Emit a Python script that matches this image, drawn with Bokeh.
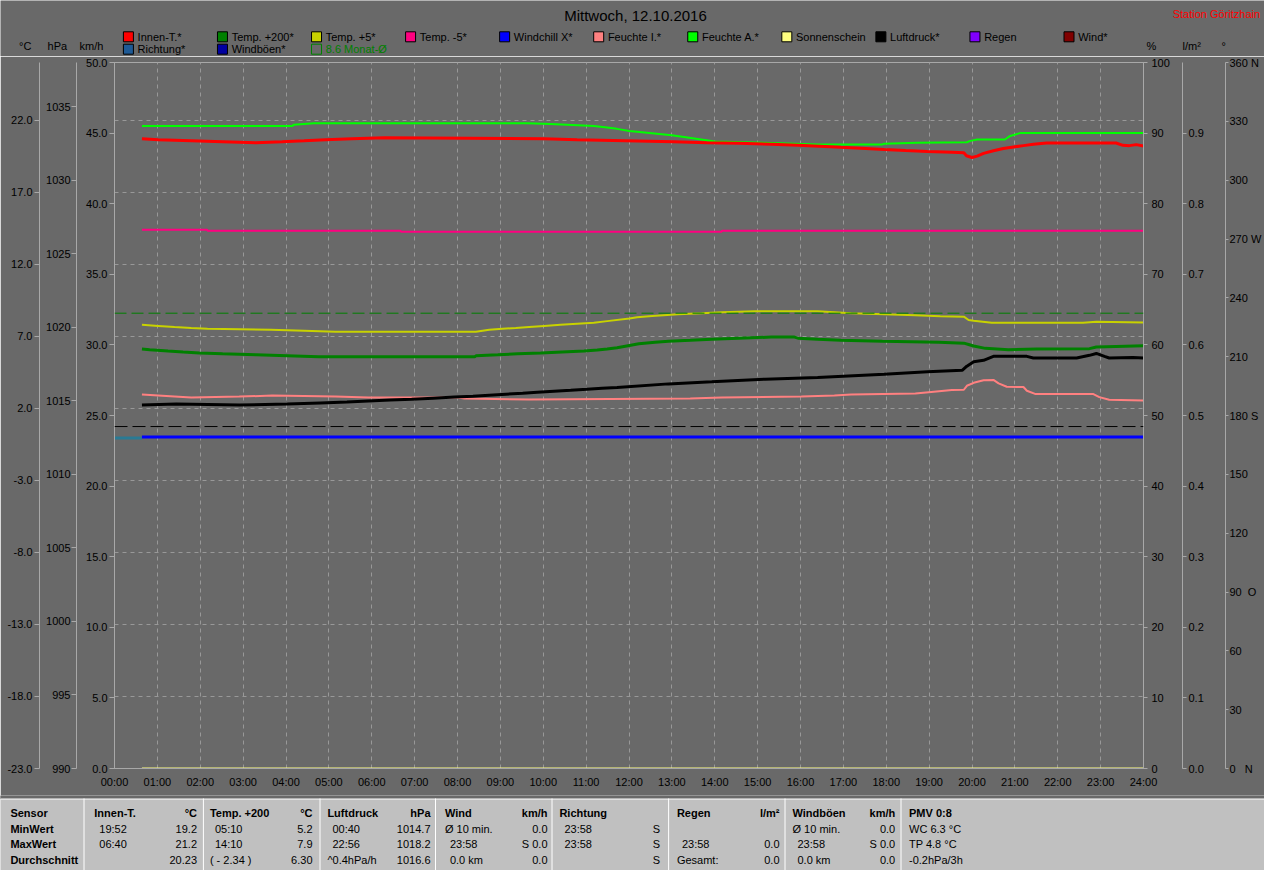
from bokeh.plotting import figure
from bokeh.models import Range1d, LinearAxis, FixedTicker, Grid, Span
from bokeh.layouts import column
from bokeh.core.properties import value
from bokeh.embed import file_html
from bokeh.resources import INLINE

FONT = "Liberation Sans"
BG = "#696969"
AXIS_C = "#A8A8A8"
GRID_C = "#989898"
TABLE_BG = "#C0C0C0"
NB = "\u00a0"

# ---------------- data (hours, value) ----------------
INNEN_T = [0.64, 1.02, 1.79, 2.52, 3.30, 3.91, 4.42, 4.92, 5.54, 6.29, 10.02, 10.79, 11.91,
           13.04, 13.81, 14.55, 15.32, 15.94, 16.44, 16.94, 17.41, 17.95, 18.45,
           18.96, 19.54, 19.81, 19.87, 20.00, 20.12, 20.27, 20.50, 20.73, 20.97,
           21.20, 21.43, 21.74, 23.36, 23.52, 23.67, 23.83, 24.0]
INNEN_V = [20.71, 20.64, 20.57, 20.50, 20.43, 20.50, 20.57, 20.64, 20.71, 20.77, 20.71, 20.64, 20.57,
           20.50, 20.43, 20.39, 20.32, 20.25, 20.18, 20.11, 20.05, 19.96, 19.89,
           19.82, 19.77, 19.73, 19.53, 19.41, 19.50, 19.69, 19.87, 20.03, 20.14,
           20.23, 20.32, 20.41, 20.41, 20.25, 20.23, 20.30, 20.21]

T200_T = [0.64, 0.82, 1.25, 1.60, 1.98, 2.52, 3.30, 4.03, 4.76, 8.40,
          8.43, 8.94, 9.40, 9.94, 10.44, 10.95, 11.26, 11.49, 11.72, 12.01,
          12.23, 12.61, 12.92, 13.43, 13.93, 14.55, 15.32, 15.86, 15.94, 16.40,
          16.94, 17.91, 19.23, 19.81, 19.92, 20.04, 20.31, 20.85, 21.51, 22.74,
          22.90, 23.36, 24.0]
T200_V = [6.12, 6.07, 5.98, 5.91, 5.84, 5.78, 5.71, 5.64, 5.57, 5.57,
          5.64, 5.71, 5.78, 5.84, 5.91, 5.98, 6.05, 6.12, 6.20, 6.36,
          6.48, 6.59, 6.66, 6.73, 6.80, 6.87, 6.94, 6.94, 6.87, 6.80,
          6.73, 6.66, 6.59, 6.52, 6.43, 6.32, 6.16, 6.07, 6.12, 6.14,
          6.25, 6.29, 6.34]

T5_T = [0.64, 1.02, 1.40, 1.79, 2.17, 3.64, 4.42, 5.15, 8.43, 8.74,
        9.05, 9.36, 9.67, 10.02, 10.40, 10.79, 11.18, 11.49, 12.01,
        12.19, 12.54, 13.15, 13.70, 14.16, 14.93, 16.40, 17.18, 17.95, 18.68,
        19.26, 19.81, 19.92, 20.04, 20.46, 22.59, 22.90, 24.0]
T5_V = [7.79, 7.72, 7.65, 7.58, 7.52, 7.45, 7.38, 7.31, 7.31, 7.45,
        7.52, 7.58, 7.65, 7.72, 7.79, 7.86, 7.93, 8.05, 8.23,
        8.32, 8.41, 8.52, 8.59, 8.66, 8.73, 8.73, 8.59, 8.52, 8.45,
        8.39, 8.36, 8.13, 8.07, 7.93, 7.93, 8.00, 7.96]

TM5_T = [0.64, 2.16, 2.17, 6.67, 6.68, 14.16, 14.17, 24.0]
TM5_V = [14.40, 14.40, 14.33, 14.33, 14.26, 14.26, 14.33, 14.33]

WINDCHILL_T = [0.64, 24.0]
WINDCHILL_V = [0.0, 0.0]

RICHTUNG_T = [0.0, 0.64]
RICHTUNG_V = [168.5, 168.5]

SONNE_T = [0.64, 24.0]
SONNE_V = [0.0, 0.0]

FEUCHTE_I_T = [0.64, 1.02, 1.40, 1.79, 2.91, 3.68, 5.15, 5.92, 8.01, 8.16, 9.67,
               13.43, 14.16, 16.02, 16.79, 17.18, 18.68, 18.99, 19.53, 19.81, 19.88,
               20.04, 20.27, 20.50, 20.62, 20.81, 21.20, 21.28, 21.47, 22.82, 22.97,
               23.20, 24.0]
FEUCHTE_I_V = [52.96, 52.82, 52.68, 52.54, 52.68, 52.82, 52.68, 52.54, 52.54, 52.40, 52.26,
               52.40, 52.54, 52.68, 52.82, 52.96, 53.10, 53.29, 53.61, 53.65, 54.21,
               54.63, 55.00, 55.04, 54.54, 54.07, 54.03, 53.51, 53.06, 53.06, 52.60,
               52.22, 52.13]

FEUCHTE_A_T = [0.64, 4.15, 4.18, 4.65, 9.63, 10.17, 10.68, 11.18, 11.49, 11.72, 12.01,
               13.00, 14.01, 15.32, 16.40, 17.91, 17.95, 18.72, 19.88, 19.96, 20.12,
               20.77, 20.89, 21.12, 24.0]
FEUCHTE_A_V = [91.0, 91.0, 91.2, 91.4, 91.4, 91.3, 91.15, 91.0, 90.8, 90.6, 90.3,
               89.7, 88.8, 88.6, 88.4, 88.4, 88.5, 88.65, 88.7, 88.9, 89.1,
               89.1, 89.6, 90.0, 90.0]

LUFT_T = [0.64, 1.44, 2.91, 4.03, 4.80, 5.42, 5.92, 6.43, 6.93, 7.43,
          7.93, 8.36, 8.74, 9.13, 9.52, 9.86, 10.25, 10.64, 11.02, 11.37, 11.72,
          12.92, 13.93, 15.17, 16.40, 17.95, 18.96, 19.77, 19.88, 20.04, 20.27,
          20.50, 21.28, 21.43, 22.44, 22.74, 22.90, 23.09, 23.20, 23.75, 24.0]
LUFT_V = [1014.71, 1014.78, 1014.71, 1014.78, 1014.85, 1014.91, 1014.98, 1015.05, 1015.11, 1015.18,
          1015.25, 1015.31, 1015.38, 1015.45, 1015.51, 1015.58, 1015.65, 1015.71, 1015.78, 1015.85, 1015.91,
          1016.15, 1016.29, 1016.47, 1016.58, 1016.80, 1016.98, 1017.07, 1017.35, 1017.65, 1017.75,
          1018.02, 1018.02, 1017.91, 1017.91, 1018.09, 1018.22, 1018.02, 1017.91, 1017.95, 1017.91]

MONAT_AVG = 8.6            # °C
NORMAL_PRESSURE = 1013.25  # hPa

# ---------------- axes ticks / labels ----------------
HOURS = list(range(25))
HOUR_LABELS = [f"{h:02d}:00" for h in HOURS]
KMH_TICKS = list(range(0, 51, 5))
KMH_LABELS = [f"{v:.1f}" for v in KMH_TICKS]
HPA_TICKS = list(range(990, 1036, 5))
HPA_LABELS = [str(v) for v in HPA_TICKS]
DEGC_TICKS = [-23, -18, -13, -8, -3, 2, 7, 12, 17, 22]
DEGC_LABELS = [f"{v:.1f}" for v in DEGC_TICKS]
PCT_TICKS = list(range(0, 101, 10))
PCT_LABELS = [str(v) for v in PCT_TICKS]
RAIN_TICKS = [round(i * 0.1, 1) for i in range(10)]
RAIN_LABELS = [f"{v:.1f}" for v in RAIN_TICKS]
DIR_TICKS = list(range(0, 361, 30))
DIR_NAMES = {0: NB * 3 + "N", 90: NB * 2 + "O", 180: " S", 270: " W", 360: " N"}
DIR_LABELS = [str(v) + DIR_NAMES.get(v, "") for v in DIR_TICKS]

# ---------------- legend ----------------
LEGEND_NAMES = ["Innen-T.*", "Temp. +200*", "Temp. +5*", "Temp. -5*", "Windchill X*",
                "Feuchte I.*", "Feuchte A.*", "Sonnenschein", "Luftdruck*", "Regen", "Wind*",
                "Richtung*", "Windböen*", "8.6 Monat-Ø"]
LEGEND_COLORS = ["#FF0000", "#008000", "#C8D200", "#FF0080", "#0000FF",
                 "#FF8080", "#00FF00", "#FFFF80", "#000000", "#8000FF", "#800000",
                 "#1E5A96", "#0000A0", "#008000"]
C = dict(zip(LEGEND_NAMES, LEGEND_COLORS))

# ---------------- table ----------------
TBL_HEAD = ["Sensor", "Innen-T.", "Temp. +200", "Luftdruck", "Wind", "Richtung", "Regen", "Windböen", "PMV 0:8"]
TBL_UNIT = ["", "°C", "°C", "hPa", "km/h", "", "l/m²", "km/h", ""]
TBL_MIN_L = ["MinWert", "19:52", "05:10", "00:40", "Ø 10 min.", "23:58", "", "Ø 10 min.", "WC 6.3 °C"]
TBL_MIN_R = ["", "19.2", "5.2", "1014.7", "0.0", "S", "", "0.0", ""]
TBL_MAX_L = ["MaxWert", "06:40", "14:10", "22:56", "23:58", "23:58", "23:58", "23:58", "TP 4.8 °C"]
TBL_MAX_R = ["", "21.2", "7.9", "1018.2", "S 0.0", "S", "0.0", "S 0.0", ""]
TBL_AVG_L = ["Durchschnitt", "", "( - 2.34 )", "^0.4hPa/h", "0.0 km", "", "Gesamt:", "0.0 km", "-0.2hPa/3h"]
TBL_AVG_R = ["", "20.23", "6.30", "1016.6", "0.0", "S", "0.0", "0.0", ""]

# layout (pixel positions inside the header / footer strips)
BLOCK_L = [9.9, 93.8, 209.4, 326.9, 444.4, 558.9, 676.4, 792.0, 908.5]
BLOCK_R = [None, 196.5, 312.0, 430.0, 547.0, 659.7, 779.0, 894.7, None]
SEPARATORS = [83, 202.4, 319, 434.5, 551, 667.6, 784, 900]

W = 1264


def no_frame_align(fig):
    if "frame_align" in fig.properties():
        fig.frame_align = False


# ================= header =================
HH = 56
h = figure(width=W, height=HH, x_range=Range1d(0, W), y_range=Range1d(HH, 0),
           x_axis_type=None, y_axis_type=None, toolbar_location=None,
           output_backend="svg", min_border=0)
no_frame_align(h)
h.background_fill_color = BG
h.border_fill_color = BG
h.outline_line_color = None

h.text(x=[635], y=[14.7], text=["Mittwoch, 12.10.2016"], text_color="black",
       text_font=value(FONT), text_font_size=value("15px"),
       text_align=value("center"), text_baseline=value("middle"))
h.text(x=[1259.6], y=[13], text=["Station Göritzhain"], text_color="#FF0000",
       text_font=value(FONT), text_font_size=value("11px"),
       text_align=value("right"), text_baseline=value("middle"))

sw_x, sw_y, sw_fill, sw_alpha, sw_line, tx_x, tx_y, tx_c = [], [], [], [], [], [], [], []
for i, (name, col) in enumerate(zip(LEGEND_NAMES, LEGEND_COLORS)):
    c = i if i < 11 else i - 11
    r = 0 if i < 11 else 1
    x0 = 127.9 + c * 94.06
    y0 = 36.3 + r * 12.4
    hollow = name.startswith("8.6")
    sw_x.append(x0)
    sw_y.append(y0)
    sw_fill.append(col)
    sw_alpha.append(0.0 if hollow else 1.0)
    sw_line.append(col if hollow else "black")
    tx_x.append(x0 + 9.2)
    tx_y.append(y0)
    tx_c.append(col if hollow else "black")

h.rect(x=sw_x, y=sw_y, width=10, height=10, fill_color=sw_fill, fill_alpha=sw_alpha,
       line_color=sw_line, line_width=1)
h.text(x=tx_x, y=tx_y, text=LEGEND_NAMES, text_color=tx_c,
       text_font=value(FONT), text_font_size=value("11px"),
       text_align=value("left"), text_baseline=value("middle"))

UNIT_TXT = ["°C", "hPa", "km/h", "%", "l/m²", "°"]
UNIT_X = [24.7, 56.8, 90.9, 1146, 1182, 1221]
UNIT_AL = ["center", "center", "center", "left", "left", "left"]
for t, x, al in zip(UNIT_TXT, UNIT_X, UNIT_AL):
    h.text(x=[x], y=[45.0], text=[t], text_color="black", text_font=value(FONT),
           text_font_size=value("11px"), text_align=value(al), text_baseline=value("middle"))

# ================= main chart =================
p = figure(width=W, height=739, x_range=Range1d(0, 24), y_range=Range1d(0, 50),
           toolbar_location=None, output_backend="svg",
           min_border_left=114, min_border_right=112, min_border_top=6, min_border_bottom=27)
no_frame_align(p)
p.background_fill_color = BG
p.border_fill_color = BG
p.outline_line_color = AXIS_C

p.extra_y_ranges = {
    "hpa": Range1d(990, 1038),
    "degc": Range1d(-23, 26),
    "pct": Range1d(0, 100),
    "rain": Range1d(0, 1),
    "dir": Range1d(0, 360),
}


def style_axis(ax, ticks, labels, tick_out, standoff):
    ax.ticker = FixedTicker(ticks=ticks)
    ax.major_label_overrides = dict(zip(ticks, labels))
    ax.axis_line_color = AXIS_C
    ax.major_tick_line_color = AXIS_C
    ax.major_tick_out = tick_out
    ax.major_tick_in = 0
    ax.minor_tick_line_color = None
    ax.major_label_text_font = FONT
    ax.major_label_text_font_size = "11px"
    ax.major_label_text_color = "black"
    ax.major_label_standoff = standoff


ax_kmh = p.yaxis[0]
style_axis(ax_kmh, KMH_TICKS, [NB * 2 + s for s in KMH_LABELS], 5, 2)
ax_hpa = LinearAxis(y_range_name="hpa")
p.add_layout(ax_hpa, "left")
style_axis(ax_hpa, HPA_TICKS, [NB + s for s in HPA_LABELS], 5, 1)
ax_degc = LinearAxis(y_range_name="degc")
p.add_layout(ax_degc, "left")
style_axis(ax_degc, DEGC_TICKS, [NB + s for s in DEGC_LABELS], 5, 2)

ax_pct = LinearAxis(y_range_name="pct")
p.add_layout(ax_pct, "right")
style_axis(ax_pct, PCT_TICKS, [s + NB * 3 for s in PCT_LABELS], 4, 4)
ax_rain = LinearAxis(y_range_name="rain")
p.add_layout(ax_rain, "right")
style_axis(ax_rain, RAIN_TICKS, [s + NB * 6 for s in RAIN_LABELS], 4, 2)
ax_dir = LinearAxis(y_range_name="dir")
p.add_layout(ax_dir, "right")
style_axis(ax_dir, DIR_TICKS, DIR_LABELS, 3, 1)

xax = p.xaxis[0]
style_axis(xax, HOURS, HOUR_LABELS, 0, 7)

p.xgrid.ticker = FixedTicker(ticks=list(range(1, 24)))
p.xgrid.grid_line_color = GRID_C
p.xgrid.grid_line_dash = "4 4"
p.ygrid.grid_line_color = None
p.add_layout(Grid(dimension=1, y_range_name="degc", ticker=FixedTicker(ticks=DEGC_TICKS[1:]),
                  grid_line_color=GRID_C, grid_line_dash="4 4"))

p.add_layout(Span(location=MONAT_AVG, dimension="width", y_range_name="degc",
                  line_color=C["8.6 Monat-Ø"], line_dash="12 5", line_width=1))
p.add_layout(Span(location=NORMAL_PRESSURE, dimension="width", y_range_name="hpa",
                  line_color="black", line_dash="13 5", line_width=1))

p.line(SONNE_T, SONNE_V, color=C["Sonnenschein"], line_width=2)
p.line(RICHTUNG_T, RICHTUNG_V, color="#2A7A94", line_width=3, y_range_name="dir")
p.line(WINDCHILL_T, WINDCHILL_V, color=C["Windchill X*"], line_width=3, y_range_name="degc")
p.line(TM5_T, TM5_V, color=C["Temp. -5*"], line_width=2, y_range_name="degc")
p.line(T5_T, T5_V, color=C["Temp. +5*"], line_width=2, y_range_name="degc")
p.line(FEUCHTE_I_T, FEUCHTE_I_V, color=C["Feuchte I.*"], line_width=2, y_range_name="pct")
p.line(LUFT_T, LUFT_V, color=C["Luftdruck*"], line_width=3, y_range_name="hpa")
p.line(T200_T, T200_V, color=C["Temp. +200*"], line_width=3, y_range_name="degc")
p.line(FEUCHTE_A_T, FEUCHTE_A_V, color=C["Feuchte A.*"], line_width=2, y_range_name="pct")
p.line(INNEN_T, INNEN_V, color=C["Innen-T.*"], line_width=3, y_range_name="degc")

# ================= footer table =================
FH = 75
f = figure(width=W, height=FH, x_range=Range1d(0, W), y_range=Range1d(FH, 0),
           x_axis_type=None, y_axis_type=None, toolbar_location=None,
           output_backend="svg", min_border=0)
no_frame_align(f)
f.background_fill_color = TABLE_BG
f.border_fill_color = TABLE_BG
f.outline_line_color = None
f.quad(left=[0], right=[W], top=[0], bottom=[3], color=BG)
f.segment(x0=[0], y0=[3.5], x1=[W], y1=[3.5], color="white", line_width=1)
f.segment(x0=[s + 0.5 for s in SEPARATORS], y0=[3] * len(SEPARATORS),
          x1=[s + 0.5 for s in SEPARATORS], y1=[FH] * len(SEPARATORS), color="white", line_width=1)

ROW_Y = [17, 33, 48.5, 64]
cells = {("bold", "left"): ([], [], []), ("bold", "right"): ([], [], []),
         ("normal", "left"): ([], [], []), ("normal", "right"): ([], [], [])}


def add(style, align, x, y, t):
    if t:
        xs, ys, ts = cells[(style, align)]
        xs.append(x)
        ys.append(y)
        ts.append(t)


for b in range(len(TBL_HEAD)):
    add("bold", "left", BLOCK_L[b], ROW_Y[0], TBL_HEAD[b])
    if BLOCK_R[b] is not None:
        add("bold", "right", BLOCK_R[b], ROW_Y[0], TBL_UNIT[b])
    for ri, (L, R) in enumerate([(TBL_MIN_L, TBL_MIN_R), (TBL_MAX_L, TBL_MAX_R), (TBL_AVG_L, TBL_AVG_R)]):
        y = ROW_Y[ri + 1]
        if b == 0:
            add("bold", "left", BLOCK_L[b], y, L[b])
        else:
            lt = L[b]
            indent = 5 if (lt and lt[0].isdigit()) else 0
            add("normal", "left", BLOCK_L[b] + indent, y, lt)
        if BLOCK_R[b] is not None:
            add("normal", "right", BLOCK_R[b], y, R[b])

for (style, align), (xs, ys, ts) in cells.items():
    if xs:
        f.text(x=xs, y=ys, text=ts, text_color="black", text_font=value(FONT),
               text_font_size=value("11px"), text_font_style=value(style),
               text_align=value(align), text_baseline=value("middle"))

layout = column(h, p, f, spacing=0)
open("out.html", "w").write(file_html(layout, INLINE))
